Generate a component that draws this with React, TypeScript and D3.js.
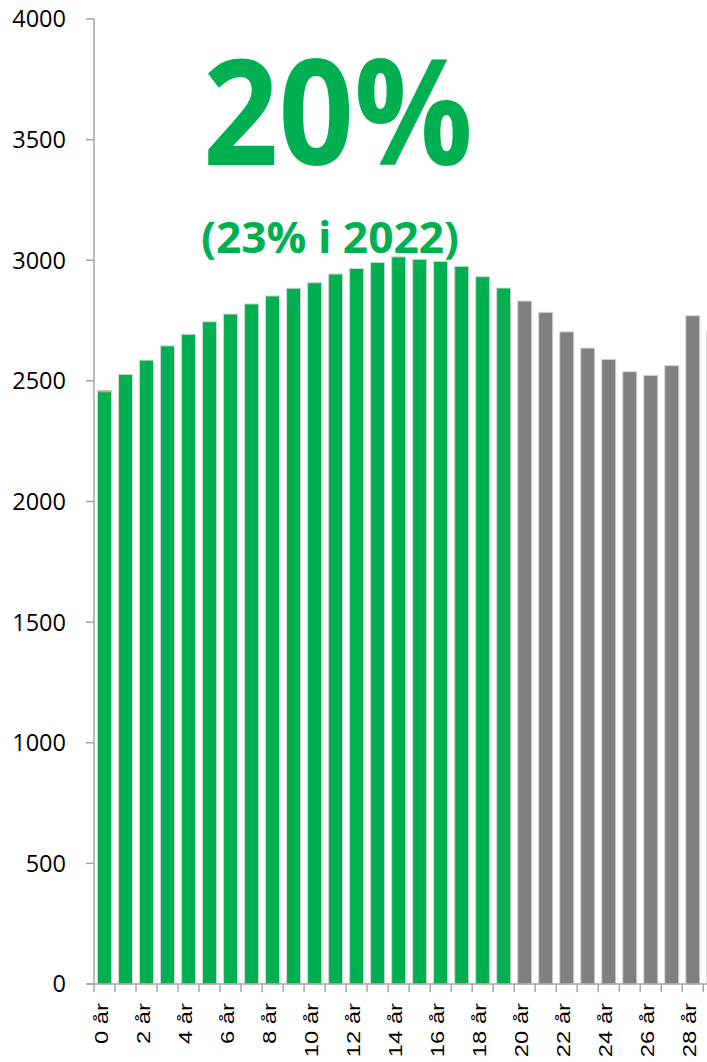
import React from "react";
import * as d3 from "d3";

const categories: string[] = Array.from({ length: 30 }, (_, i) => `${i} år`);
const greenValues: number[] = [
  2455, 2527, 2586, 2645, 2693, 2745, 2777, 2819, 2852, 2884,
  2907, 2943, 2966, 2991, 3014, 3004, 2995, 2975, 2932, 2885,
];
const greyValues: number[] = [2831, 2784, 2703, 2636, 2589, 2538, 2523, 2563, 2770, 2708];
const unknownValues: number[] = [6];
const yTicks: number[] = [0, 500, 1000, 1500, 2000, 2500, 3000, 3500, 4000];
const headline = "20%";
const subline = "(23% i 2022)";

const GREEN = "#00B050";
const GREY = "#808080";
const ORANGE = "#ED7D31";
const AXIS = "#A6A6A6";

export default function App() {
  const W = 707;
  const H = 1062;
  const x0 = 94;
  const step = 21.01;
  const x = d3
    .scaleBand<string>()
    .domain(categories)
    .range([x0, x0 + step * categories.length])
    .paddingInner(0.333)
    .paddingOuter(0.1667);
  const y = d3.scaleLinear().domain([0, 4000]).range([984, 19]);

  const values = categories.map((c, i) =>
    i < greenValues.length ? greenValues[i] : greyValues[i - greenValues.length]
  );

  const yFont = "'Open Sans', 'Liberation Sans', sans-serif";

  return (
    <svg
      width={W}
      height={H}
      style={{ position: "absolute", left: 0, top: 0, background: "#fff", overflow: "hidden" }}
      xmlns="http://www.w3.org/2000/svg"
    >
      <rect x={0} y={0} width={W} height={H} fill="#fff" />
      {/* bars */}
      {categories.map((c, i) => {
        const v = values[i];
        const bx = x(c)!;
        const bw = x.bandwidth();
        return (
          <g key={c}>
            <rect
              x={bx}
              y={y(v)}
              width={bw}
              height={y(0) - y(v)}
              fill={i < greenValues.length ? GREEN : GREY}
              stroke="#d4d4d4"
              strokeWidth={1}
            />
            {unknownValues[i] ? (
              <rect
                x={bx}
                y={y(v + unknownValues[i])}
                width={bw}
                height={y(v) - y(v + unknownValues[i])}
                fill={ORANGE}
                opacity={0.8}
              />
            ) : null}
          </g>
        );
      })}
      {/* y axis */}
      <line x1={x0} x2={x0} y1={y(4000)} y2={y(0)} stroke={AXIS} strokeWidth={1.5} />
      {yTicks.map((t) => (
        <g key={t}>
          <line x1={86} x2={x0} y1={y(t)} y2={y(t)} stroke={AXIS} strokeWidth={1.5} />
          <text
            x={66}
            y={y(t)}
            dy="0.36em"
            textAnchor="end"
            fontFamily={yFont}
            fontSize={23.5}
            fill="#000"
          >
            {t}
          </text>
        </g>
      ))}
      {/* x axis */}
      <line x1={86} x2={W} y1={y(0)} y2={y(0)} stroke={AXIS} strokeWidth={1.5} />
      {categories.map((c, i) => {
        const tx = x0 + i * step;
        return <line key={"t" + c} x1={tx} x2={tx} y1={y(0)} y2={y(0) + 8} stroke={AXIS} strokeWidth={1.5} />;
      })}
      {categories.map((c, i) => {
        if (i % 2 !== 0) return null;
        const cx = x(c)! + x.bandwidth() / 2 + 3.5;
        return (
          <text
            key={"l" + c}
            transform={`translate(${cx},1003) rotate(-90) scale(1.25,1)`}
            textAnchor="end"
            fontFamily="'Liberation Sans', Arial, sans-serif"
            fontSize={19}
            fill="#000"
          >
            {c}
          </text>
        );
      })}
      {/* headline texts */}
      <text
        x={203}
        y={165}
        fontFamily="'Open Sans', sans-serif"
        fontWeight={700}
        fontSize={147}
        fill={GREEN}
        textLength={270}
        lengthAdjust="spacingAndGlyphs"
      >
        {headline}
      </text>
      <text
        x={201}
        y={253}
        fontFamily="'Open Sans', sans-serif"
        fontWeight={700}
        fontSize={43}
        fill={GREEN}
        textLength={258}
        lengthAdjust="spacingAndGlyphs"
      >
        {subline}
      </text>
    </svg>
  );
}
